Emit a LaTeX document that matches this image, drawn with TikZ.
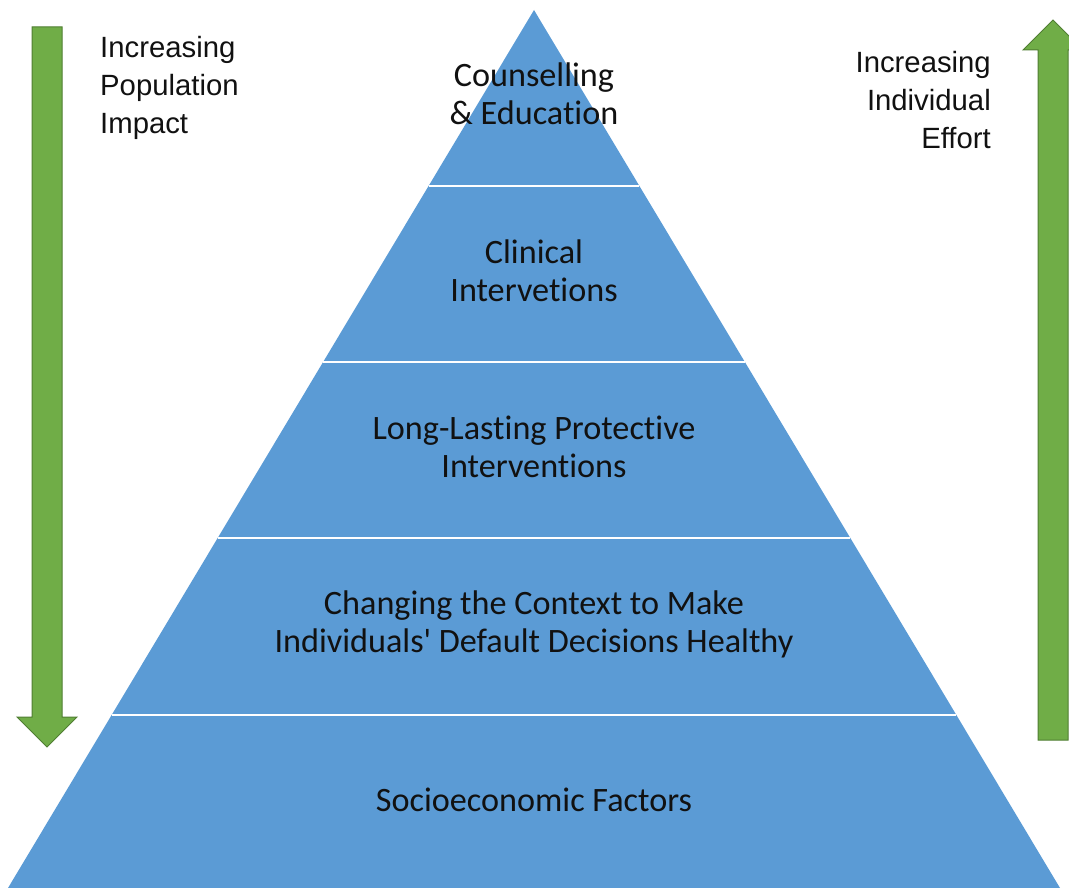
\documentclass[tikz,border=0pt]{standalone}
\usepackage{fontspec}
\newfontfamily\calf[Ligatures={NoCommon}]{Carlito}
\newfontfamily\arialf{Liberation Sans}
\definecolor{pblue}{HTML}{5B9BD5}
\definecolor{agreen}{HTML}{70AD47}
\definecolor{agreend}{HTML}{507E32}
\definecolor{txt}{HTML}{111111}
\begin{document}
\begin{tikzpicture}[x=1pt,y=-1pt,
  bandtext/.style={text=txt,align=center,font=\calf\fontsize{34.2}{38}\selectfont,inner sep=0pt},
  sidetext/.style={text=txt,font=\arialf\fontsize{29.3}{38}\selectfont,inner sep=0pt},
  bigarrow/.style={fill=agreen,draw=agreend,line width=1pt,line join=miter},
  divider/.style={white,line width=2pt}]
\useasboundingbox (0,0) rectangle (1069,888);
% pyramid
\coordinate (apex) at (534,10);
\coordinate (bl) at (8,888);
\coordinate (br) at (1060,888);
\fill[pblue] (apex) -- (bl) -- (br) -- cycle;
% dividers: x half-width = 0.599*(y-10)
\foreach \y/\n in {186/a,362/b,538/c,715/d}{
  \coordinate (l\n) at ({534-0.5991*(\y-10)},\y);
  \coordinate (r\n) at ({534+0.5991*(\y-10)},\y);
  \draw[divider] (l\n) -- (r\n);
}
% band texts
\node[bandtext] (t1) at (534,94) {Counselling\\\& Education};
\node[bandtext] (t2) at (534,271) {Clinical\\Intervetions};
\node[bandtext] (t3) at (534,447) {Long-Lasting Protective\\Interventions};
\node[bandtext] (t4) at (534,624) {Changing the Context to Make\\Individuals' Default Decisions Healthy};
\node[bandtext] (t5) at (534,800) {Socioeconomic Factors};
% left arrow
\draw[bigarrow] (32,27) -- (62,27) -- (62,717) -- (77,717) -- (47,747) -- (17,717) -- (32,717) -- cycle;
% right arrow
\draw[bigarrow] (1038,740) -- (1068,740) -- (1068,50) -- (1083,50) -- (1053,20) -- (1023,50) -- (1038,50) -- cycle;
% side labels
\node[sidetext,anchor=west,align=left] (lt) at (100,87.5) {Increasing\\Population\\Impact};
\node[sidetext,anchor=east,align=right] (rt) at (991,100) {Increasing\\Individual\\Effort};
\end{tikzpicture}
\end{document}
